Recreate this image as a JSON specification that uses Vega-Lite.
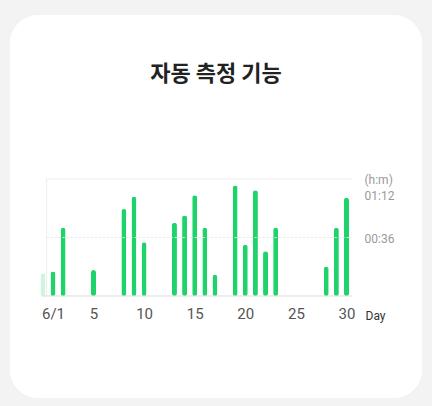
{
  "$schema": "https://vega.github.io/schema/vega-lite/v6.json",
  "width": 412,
  "height": 383,
  "autosize": {"type": "none"},
  "padding": {"left": 10, "top": 15, "right": 10, "bottom": 8},
  "background": "#f3f3f3",
  "config": {
    "view": {"fill": "white", "stroke": null, "cornerRadius": 28},
    "font": "Roboto"
  },
  "title": {
    "text": "자동 측정 기능",
    "font": "Noto Sans CJK KR",
    "fontSize": 22,
    "fontWeight": "bold",
    "color": "#222222",
    "anchor": "middle",
    "baseline": "middle",
    "offset": 0,
    "dy": 81
  },
  "data": {
    "values": [
      {"day": 0, "minutes": 14},
      {"day": 1, "minutes": 15},
      {"day": 2, "minutes": 42},
      {"day": 5, "minutes": 16},
      {"day": 8, "minutes": 53.5},
      {"day": 9, "minutes": 61},
      {"day": 10, "minutes": 33},
      {"day": 13, "minutes": 45},
      {"day": 14, "minutes": 49.5},
      {"day": 15, "minutes": 62},
      {"day": 16, "minutes": 42},
      {"day": 17, "minutes": 13},
      {"day": 19, "minutes": 68},
      {"day": 20, "minutes": 31.5},
      {"day": 21, "minutes": 65},
      {"day": 22, "minutes": 27.5},
      {"day": 23, "minutes": 42},
      {"day": 28, "minutes": 18},
      {"day": 29, "minutes": 42},
      {"day": 30, "minutes": 60.5}
    ]
  },
  "layer": [
    {
      "mark": {"type": "bar", "orient": "vertical", "size": 5, "cornerRadius": 2.5, "color": "#1ed36a"},
      "encoding": {
        "x": {
          "field": "day",
          "type": "quantitative",
          "scale": {"domain": [-3.251, 37.46], "nice": false, "zero": false, "padding": 0},
          "axis": {
            "orient": "bottom",
            "offset": -102,
            "values": [1, 5, 10, 15, 20, 25, 30],
            "labelExpr": "datum.value == 1 ? '6/1' : datum.label",
            "labelFontSize": 15,
            "labelColor": "#555555",
            "labelPadding": 10,
            "ticks": false,
            "domain": false,
            "grid": false,
            "title": "Day",
            "titleX": 365,
            "titleY": 23,
            "titleAlign": "center",
            "titleBaseline": "alphabetic",
            "titleFontSize": 12,
            "titleFontWeight": "normal",
            "titleColor": "#333333"
          }
        },
        "y": {
          "field": "minutes",
          "type": "quantitative",
          "scale": {"domain": [-62.77, 172.92], "nice": false, "zero": false, "padding": 0},
          "axis": {
            "orient": "right",
            "offset": -66,
            "values": [36, 72],
            "labelExpr": "datum.value == 72 ? '01:12' : '00:36'",
            "labelOffset": {"condition": {"test": "datum.value == 72", "value": 17}, "value": 1},
            "labelFontSize": 12,
            "labelColor": "#9a9a9a",
            "labelPadding": 8,
            "labelAlign": "left",
            "ticks": false,
            "domain": false,
            "grid": false,
            "title": "(h:m)",
            "titleAngle": 0,
            "titleAlign": "left",
            "titleBaseline": "middle",
            "titleX": 8,
            "titleY": 164,
            "titleFontSize": 12,
            "titleFontWeight": "normal",
            "titleColor": "#9a9a9a"
          }
        },
        "opacity": {"condition": {"test": "datum.day == 0", "value": 0.22}, "value": 1}
      }
    },
    {
      "data": {"values": [{}]},
      "mark": {"type": "rule", "color": "#eeeeee", "strokeWidth": 1},
      "encoding": {
        "x": {"datum": 0.37, "type": "quantitative"},
        "x2": {"datum": 30.6},
        "y": {"datum": 72, "type": "quantitative"}
      }
    },
    {
      "data": {"values": [{}]},
      "mark": {"type": "rule", "color": "#e6e6e6", "strokeWidth": 1, "strokeDash": [2, 2]},
      "encoding": {
        "x": {"datum": 0.37, "type": "quantitative"},
        "x2": {"datum": 30.6},
        "y": {"datum": 36, "type": "quantitative"}
      }
    },
    {
      "data": {"values": [{}]},
      "mark": {"type": "rule", "color": "#eeeeee", "strokeWidth": 1},
      "encoding": {
        "x": {"datum": 0.37, "type": "quantitative"},
        "y": {"datum": 0, "type": "quantitative"},
        "y2": {"datum": 72}
      }
    },
    {
      "data": {"values": [{}]},
      "mark": {"type": "rule", "color": "#dadada", "strokeWidth": 1},
      "encoding": {
        "x": {"datum": -0.13, "type": "quantitative"},
        "x2": {"datum": 30.6},
        "y": {"datum": 0, "type": "quantitative"}
      }
    }
  ]
}
